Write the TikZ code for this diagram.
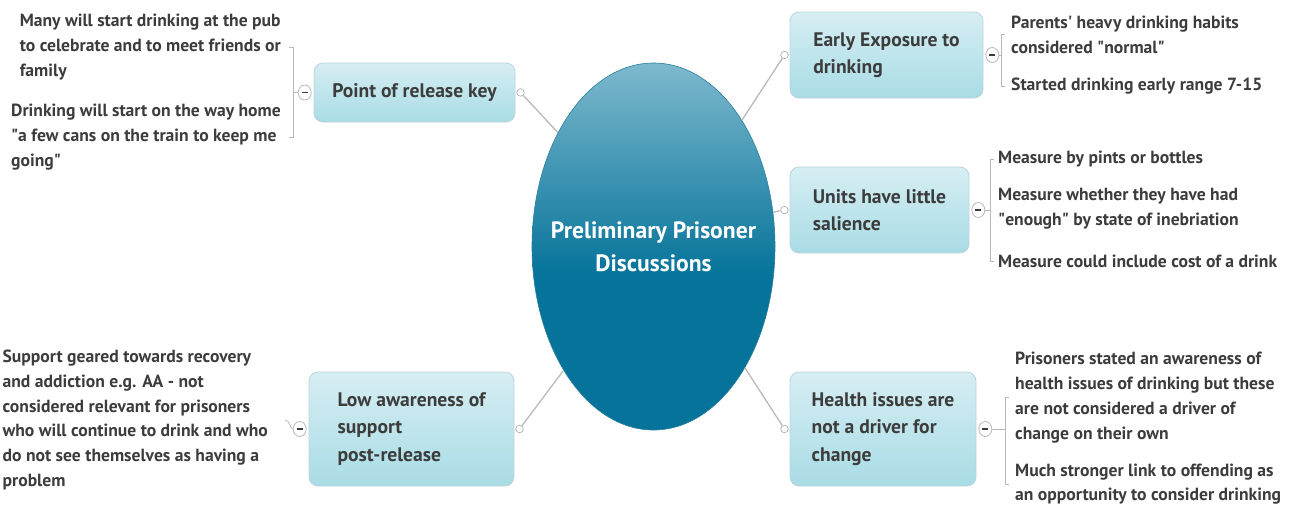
\documentclass[tikz,border=0pt]{standalone}
\usepackage{fontspec}
\setmainfont{PT Sans}
\usetikzlibrary{shapes.geometric,positioning}

\definecolor{hubtop}{HTML}{7DB9CD}
\definecolor{hubbot}{HTML}{05739A}
\definecolor{hubedge}{HTML}{2A7F9E}
\definecolor{boxtop}{HTML}{D6EEF3}
\definecolor{boxbot}{HTML}{A9DCE6}
\definecolor{boxedge}{HTML}{BCD4DA}
\definecolor{inkgray}{HTML}{3C3C3C}
\definecolor{linkgray}{HTML}{B9B9B9}

\pgfdeclareverticalshading{hubshade}{100bp}{color(0bp)=(hubbot); color(25bp)=(hubbot);
  color(46bp)=(hubbot); color(75bp)=(hubtop); color(100bp)=(hubtop)}

\newcommand{\qq}{\textquotedbl}

\tikzset{
  hub/.style={ellipse, draw=hubedge, line width=0.6pt, shading=hubshade, minimum width=243,
    minimum height=367, inner sep=0pt},
  hubtext/.style={align=center, text=white, inner sep=0pt,
    font=\bfseries\fontsize{23.6}{33}\selectfont},
  topicbox/.style={draw=boxedge, line width=0.8pt, rounded corners=9pt, top color=boxtop,
    bottom color=boxbot, align=left, text=inkgray, inner sep=0pt,
    font=\bfseries\fontsize{19.6}{27.5}\selectfont},
  leaf/.style={align=left, text=inkgray, inner sep=0pt, font=\bfseries\fontsize{17.6}{24.8}\selectfont},
  knob/.style={circle, draw=linkgray, fill=white, line width=0.8pt, minimum size=7.5, inner sep=0pt},
  toggle/.style={ellipse, draw=linkgray, fill=white, line width=0.8pt, minimum width=13,
    minimum height=15, inner sep=0pt},
  link/.style={draw=linkgray, line width=1.3pt},
  branch/.style={draw=linkgray, line width=0.8pt},
  minus/.style={draw=inkgray, line width=1.6pt}
}

\begin{document}
\begin{tikzpicture}[x=1pt,y=-1pt]
\useasboundingbox (0,0) rectangle (1291,504);
\clip (0,0) rectangle (1291,504);

% centre
\node[hub] (hub) at (653.5,246.5) {};
\node[hubtext] (hubtitle) at (hub.center) {Preliminary Prisoner\\Discussions};

% main topics
\node[topicbox, minimum width=201, minimum height=59] (release) at (414.5,92.5) {Point of release key};
\node[topicbox, minimum width=193, minimum height=86] (early) at (886.5,55) {Early Exposure to\\drinking};
\node[topicbox, minimum width=179, minimum height=86] (units) at (879.5,210) {Units have little\\salience};
\node[topicbox, minimum width=205, minimum height=114] (support) at (411.5,429) {Low awareness of\\support\\post-release};
\node[topicbox, minimum width=186, minimum height=114] (health) at (883,429) {Health issues are\\not a driver for\\change};

% knobs and links to the centre
\node[knob, right=1pt of release] (krelease) {};
\node[knob, left=1pt of early] (kearly) {};
\node[knob, left=1pt of units] (kunits) {};
\node[knob, right=1pt of support] (ksupport) {};
\node[knob, left=1pt of health] (khealth) {};
\draw[link] (hub.130) -- (krelease);
\draw[link] (hub.55) -- (kearly);
\draw[link] (hub.16) -- (kunits);
\draw[link] (hub.234) -- (ksupport);
\draw[link] (hub.307) -- (khealth);

% leaves
\node[leaf, anchor=east] (r1) at (281,47) {Many will start drinking at the pub\\to celebrate and to meet friends or\\family};
\node[leaf, anchor=east] (r2) at (281,137) {Drinking will start on the way home\\\qq a few cans on the train to keep me\\going\qq};
\node[leaf, anchor=west] (e1) at (1011,34.5) {Parents\textquotesingle\ heavy drinking habits\\considered \qq normal\qq};
\node[leaf, anchor=west] (e2) at (1011,86) {Started drinking early range 7-15};
\node[leaf, anchor=west] (u1) at (998,159) {Measure by pints or bottles};
\node[leaf, anchor=west] (u2) at (998,209) {Measure whether they have had\\\qq enough\qq\ by state of inebriation};
\node[leaf, anchor=west] (u3) at (998,261) {Measure could include cost of a drink};
\node[leaf, anchor=east] (s1) at (268,420) {Support geared towards recovery\\and addiction e.g. AA - not\\considered relevant for prisoners\\who will continue to drink and who\\do not see themselves as having a\\problem};
\node[leaf, anchor=west] (h1) at (1015,397.5) {Prisoners stated an awareness of\\health issues of drinking but these\\are not considered a driver of\\change on their own};
\node[leaf, anchor=west] (h2) at (1015,484) {Much stronger link to offending as\\an opportunity to consider drinking};

% toggles and brackets
\node[toggle, left=2pt of release] (trelease) {};
\node[toggle, right=2pt of early] (tearly) {};
\node[toggle, right=2pt of units] (tunits) {};
\node[toggle, left=2pt of support] (tsupport) {};
\node[toggle, right=2pt of health] (thealth) {};
\foreach \t in {trelease,tearly,tunits,tsupport,thealth}
  \draw[minus] ([xshift=-3]\t.center) -- ([xshift=3]\t.center);

\coordinate (brelease) at (293,92.5);
\coordinate (bearly) at (1001,55);
\coordinate (bunits) at (990,210);
\coordinate (bhealth) at (1005,429);
\draw[branch] (trelease) -- (brelease);
\draw[branch] ([xshift=-4]brelease |- r1.east) -- (brelease |- r1.east) -- (brelease |- r2.east) -- ([xshift=-4]brelease |- r2.east);
\draw[branch] (tearly) -- (bearly);
\draw[branch] ([xshift=4]bearly |- e1.west) -- (bearly |- e1.west) -- (bearly |- e2.west) -- ([xshift=4]bearly |- e2.west);
\draw[branch] (tunits) -- (bunits);
\draw[branch] ([xshift=4]bunits |- u1.west) -- (bunits |- u1.west) -- (bunits |- u3.west) -- ([xshift=4]bunits |- u3.west);
\draw[branch] (thealth) -- (bhealth);
\draw[branch] ([xshift=4]bhealth |- h1.west) -- (bhealth |- h1.west) -- (bhealth |- h2.west) -- ([xshift=4]bhealth |- h2.west);
\draw[branch] (tsupport.west) .. controls +(-3,0) and (290,420) .. (285,420);
\end{tikzpicture}
\end{document}
